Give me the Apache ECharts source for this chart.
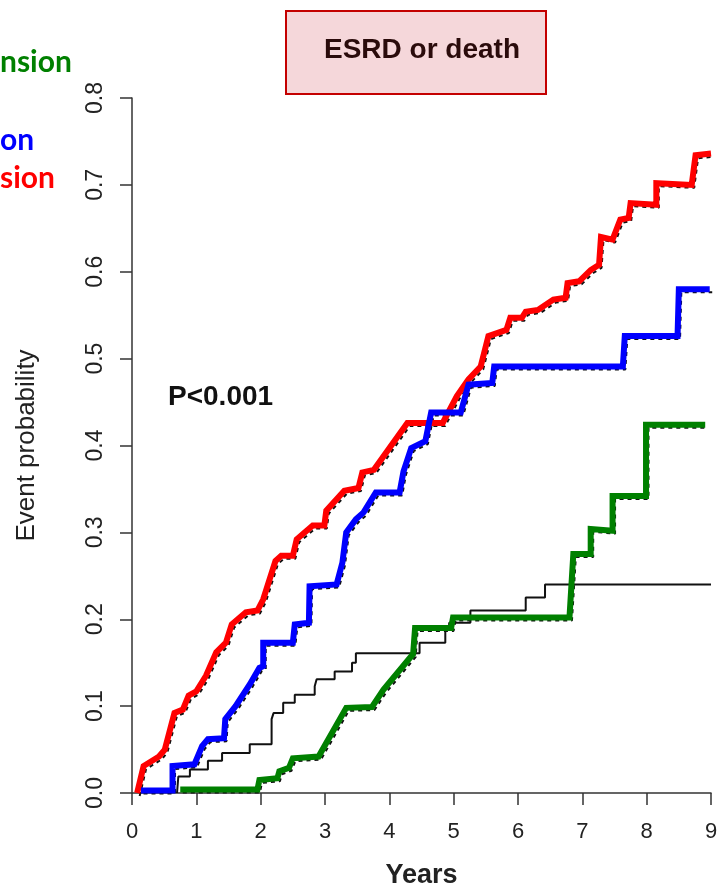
<!DOCTYPE html>
<html><head><meta charset="utf-8">
<script src="https://cdn.jsdelivr.net/npm/echarts@6/dist/echarts.min.js"></script>
<style>html,body{margin:0;padding:0;background:#fff}#c{width:718px;height:887px}</style>
</head><body><div id="c"></div>
<script>
// ---- data ----
const redT = [0.08,0.18,0.42,0.51,0.66,0.79,0.88,1.0,1.15,1.31,1.46,1.55,1.77,1.95,2.04,2.23,2.32,2.5,2.56,2.81,2.99,3.02,3.3,3.52,3.58,3.76,4.28,4.83,5.05,5.23,5.42,5.54,5.82,5.88,6.06,6.12,6.31,6.55,6.74,6.77,6.95,7.13,7.26,7.29,7.47,7.59,7.72,7.75,8.15,8.15,8.7,8.76,9.0];
const redP = [0,0.031,0.042,0.05,0.092,0.096,0.112,0.117,0.135,0.162,0.173,0.194,0.208,0.21,0.223,0.267,0.273,0.273,0.292,0.308,0.308,0.325,0.348,0.351,0.369,0.372,0.426,0.426,0.457,0.476,0.491,0.526,0.533,0.547,0.547,0.554,0.556,0.568,0.57,0.587,0.589,0.602,0.608,0.64,0.637,0.66,0.662,0.679,0.677,0.702,0.70,0.734,0.736];
const blueT = [0.14,0.63,0.63,0.97,1.09,1.18,1.43,1.45,1.61,1.83,1.98,2.04,2.04,2.5,2.53,2.75,2.76,3.18,3.27,3.33,3.48,3.6,3.79,4.16,4.22,4.34,4.56,4.65,5.11,5.23,5.6,5.63,7.63,7.66,8.48,8.5,8.98];
const blueP = [0.003,0.003,0.031,0.033,0.054,0.062,0.063,0.085,0.1,0.125,0.144,0.146,0.173,0.173,0.194,0.196,0.238,0.24,0.265,0.30,0.315,0.323,0.346,0.346,0.37,0.397,0.405,0.438,0.438,0.47,0.472,0.491,0.491,0.526,0.526,0.58,0.58];
const greenT = [0.75,1.95,1.98,2.26,2.29,2.44,2.5,2.9,3.33,3.73,3.91,4.37,4.4,4.96,4.99,6.8,6.86,7.13,7.13,7.47,7.47,7.99,7.99,8.91];
const greenP = [0.004,0.004,0.015,0.017,0.025,0.029,0.04,0.042,0.098,0.099,0.119,0.16,0.19,0.19,0.202,0.202,0.275,0.275,0.304,0.302,0.342,0.342,0.424,0.424];
const blackT = [0.7,0.72,0.9,1.18,1.4,1.83,2.17,2.2,2.35,2.53,2.84,2.87,3.15,3.42,3.48,4.47,4.87,4.93,5.26,6.12,6.42,9.0];
const blackP = [0,0.019,0.027,0.037,0.046,0.056,0.085,0.092,0.104,0.113,0.123,0.131,0.14,0.15,0.161,0.173,0.19,0.196,0.21,0.225,0.24,0.24];
const xTicks = ['0','1','2','3','4','5','6','7','8','9'];
const yTicks = ['0.0','0.1','0.2','0.3','0.4','0.5','0.6','0.7','0.8'];
const legendParts = [['nsion','#008000'],['on','#0000ff'],['sion','#ff0000']];

const zip = (a,b) => a.map((t,i) => [t,b[i]]);
const chart = echarts.init(document.getElementById('c'), null, {renderer:'canvas'});
const AX = '#333';
const FF = '"Liberation Sans", Arial, sans-serif';
const thick = (name, T, P, color) => ({
  name, type:'line', data:zip(T,P), symbol:'none', xAxisIndex:0, yAxisIndex:0,
  lineStyle:{color, width:6, join:'miter'}, z:3
});
const dash = (T, P) => ({
  type:'line', data:zip(T,P), symbol:'none', xAxisIndex:1, yAxisIndex:1,
  lineStyle:{color:'#111', width:2, type:[4,4]}, z:1
});
const legendYs = [62,140,178];
chart.setOption({
  animation:false,
  grid:[{left:132, top:98, width:579, height:695, outerBoundsMode:'none', containLabel:false},
        {left:134.5, top:101, width:579, height:695, outerBoundsMode:'none', containLabel:false}],
  xAxis:[{
    type:'value', min:0, max:9, interval:1, gridIndex:0,
    axisLine:{lineStyle:{color:AX, width:1.5}},
    axisTick:{length:12, lineStyle:{color:AX, width:1.5}},
    axisLabel:{margin:28, fontSize:22, color:'#222', fontFamily:FF, formatter:v=>xTicks[Math.round(v)]},
    splitLine:{show:false},
    name:'Years', nameLocation:'middle', nameGap:69,
    nameTextStyle:{fontSize:27, fontWeight:'bold', color:'#222', fontFamily:FF}
  },{type:'value', min:0, max:9, gridIndex:1, show:false}],
  yAxis:[{
    type:'value', min:0, max:0.8, interval:0.1, gridIndex:0,
    axisLine:{lineStyle:{color:AX, width:1.5}},
    axisTick:{length:12, lineStyle:{color:AX, width:1.5}},
    axisLabel:{rotate:90, margin:25, fontSize:23, color:'#222', fontFamily:FF, formatter:v=>yTicks[Math.round(v*10)]},
    splitLine:{show:false},
    name:'Event probability', nameLocation:'middle', nameGap:92,
    nameTextStyle:{fontSize:26, color:'#222', fontFamily:FF}
  },{type:'value', min:0, max:0.8, gridIndex:1, show:false}],
  series:[
    dash(redT,redP), dash(blueT,blueP), dash(greenT,greenP),
    {type:'line', data:zip(blackT,blackP), step:'end', symbol:'none', xAxisIndex:0, yAxisIndex:0, lineStyle:{color:'#111', width:2}, z:2},
    thick('red', redT, redP, '#ff0000'),
    thick('blue', blueT, blueP, '#0000ff'),
    thick('green', greenT, greenP, '#008000')
  ],
  graphic:[
    {type:'rect', left:285, top:10, shape:{width:260, height:83}, style:{fill:'#f5d7da', stroke:'#c40000', lineWidth:2}},
    {type:'text', x:422, y:50, style:{text:'ESRD or death', fill:'#2a0b0b', font:'bold 28px '+FF, textAlign:'center', textVerticalAlign:'middle'}},
    {type:'text', x:168, y:397, style:{text:'P<0.001', fill:'#111', font:'bold 28px '+FF, textAlign:'left', textVerticalAlign:'middle'}},
    ...legendParts.map((p,i)=>({type:'text', x:0, y:legendYs[i], style:{text:p[0], fill:p[1], font:'bold 30px Lato, "Open Sans", sans-serif', textAlign:'left', textVerticalAlign:'middle'}}))
  ]
});
</script></body></html>
